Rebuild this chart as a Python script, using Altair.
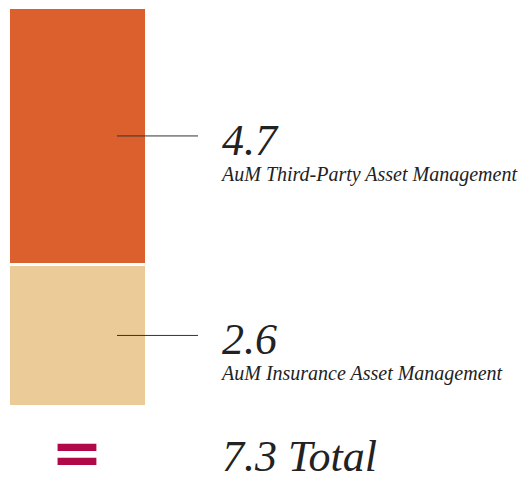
import altair as alt
import pandas as pd

segments = ["AuM Insurance Asset Management", "AuM Third-Party Asset Management"]
values = [2.6, 4.7]
stack_order = [1, 2]
bar_group = ["AuM", "AuM"]
colors = ["#EBCB97", "#DC602E"]

df = pd.DataFrame({"segment": segments, "value": values, "order": stack_order, "group": bar_group})

SERIF = "Liberation Serif"
TXT = "#222222"

yscale = alt.Scale(domain=[0, 7.3], range=[398.5, -0.5])

base = alt.Chart(df).transform_stack(
    stack="value", groupby=["group"], as_=["y0", "y1"],
    sort=[alt.SortField("order", order="ascending")]
).transform_calculate(
    mid="(datum.y0 + datum.y1) / 2",
    label_value="format(datum.value, '.1f')"
)

bars = base.mark_bar(stroke="white", strokeWidth=3).encode(
    x=alt.X("group:N", scale=alt.Scale(range=[0.5, 138.5], paddingInner=0, paddingOuter=0), axis=None),
    y=alt.Y("y0:Q", scale=yscale, axis=None),
    y2="y1:Q",
    color=alt.Color("segment:N", scale=alt.Scale(domain=segments, range=colors), legend=None),
)

rules = base.mark_rule(color="#333333", strokeWidth=1).encode(
    x=alt.value(109), x2=alt.value(190),
    y=alt.Y("mid:Q", scale=yscale, axis=None),
)

vals = base.mark_text(align="left", baseline="alphabetic", font=SERIF, fontStyle="italic",
                      fontSize=44, dy=19, color=TXT).encode(
    x=alt.value(214), y=alt.Y("mid:Q", scale=yscale, axis=None), text="label_value:N")

labels = base.mark_text(align="left", baseline="alphabetic", font=SERIF, fontStyle="italic",
                        fontSize=20, dy=45, color=TXT).encode(
    x=alt.value(214), y=alt.Y("mid:Q", scale=yscale, axis=None), text="segment:N")

tot = alt.Chart(df).transform_aggregate(total="sum(value)").transform_calculate(
    t="format(datum.total, '.1f') + ' Total'")

total = tot.mark_text(align="left", baseline="alphabetic", font=SERIF, fontStyle="italic",
                      fontSize=44, color=TXT).encode(
    x=alt.value(214), y=alt.value(463), text="t:N")

eq = tot.mark_text(text="=", align="center", baseline="middle", font="DejaVu Sans",
                   fontWeight="bold", fontSize=62, color="#B00848").encode(
    x=alt.value(69), y=alt.value(447))

chart = alt.layer(bars, rules, vals, labels, total, eq).properties(
    width=514, height=469, autosize=alt.AutoSizeParams(type="none"), padding=0,
    background="white"
).configure_view(stroke=None)

chart.save("out.html", embed_options={"renderer": "svg", "actions": False})
